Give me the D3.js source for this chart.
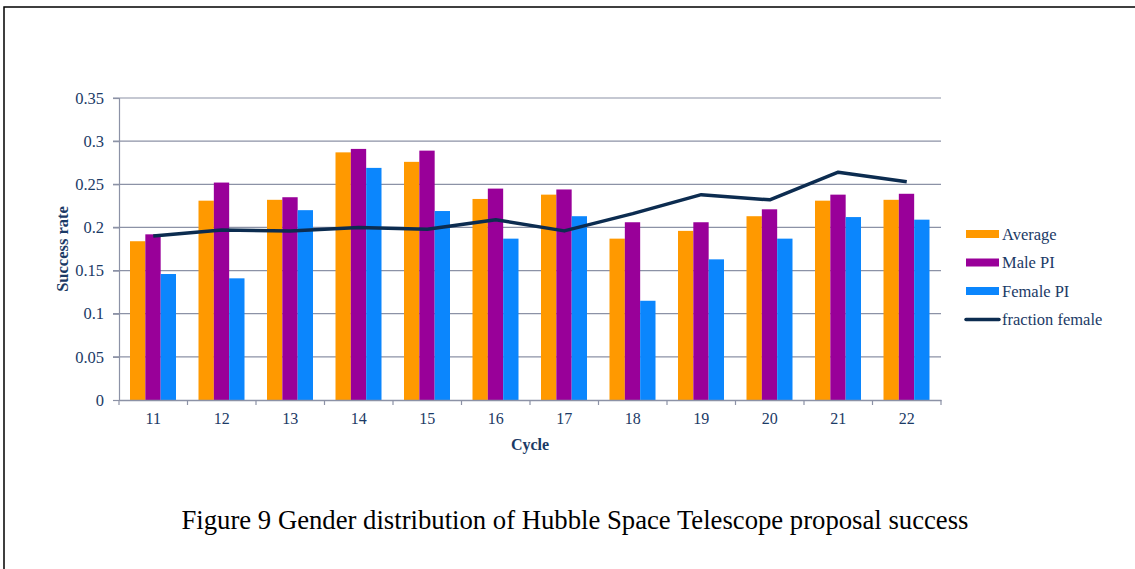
<!DOCTYPE html>
<html>
<head>
<meta charset="utf-8">
<script src="https://cdn.jsdelivr.net/npm/d3@7"></script>
<style>
  body { margin: 0; background: #fff; }
  svg { display: block; }
  text { font-family: "Liberation Serif", "Times New Roman", serif; }
</style>
</head>
<body>
<div id="app"></div>
<script>
// данные
const cycles = ['11', '12', '13', '14', '15', '16', '17', '18', '19', '20', '21', '22'];
const average = [0.184, 0.231, 0.232, 0.287, 0.276, 0.233, 0.238, 0.187, 0.196, 0.213, 0.231, 0.232];
const malePI = [0.192, 0.252, 0.235, 0.291, 0.289, 0.245, 0.244, 0.206, 0.206, 0.221, 0.238, 0.239];
const femalePI = [0.146, 0.141, 0.220, 0.269, 0.219, 0.187, 0.213, 0.115, 0.163, 0.187, 0.212, 0.209];
const fractionFemale = [0.190, 0.197, 0.196, 0.200, 0.198, 0.209, 0.196, 0.216, 0.238, 0.232, 0.264, 0.253];
const yTicks = [0, 0.05, 0.1, 0.15, 0.2, 0.25, 0.3, 0.35];

const seriesNames = ['Average', 'Male PI', 'Female PI'];
const seriesColors = ['#ff9900', '#990099', '#0b86fd'];
const lineName = 'fraction female';
const lineColor = '#0c2c50';
const textColor = '#1b3a66';

const width = 1135;
const height = 569;
const margin = { left: 119, right: 194, top: 98, bottom: 169 };

const svg = d3.select('#app')
  .append('svg')
  .attr('width', width)
  .attr('height', height);

// рамка вокруг рисунка
svg.append('rect')
  .attr('x', 4)
  .attr('y', 7)
  .attr('width', width + 10)
  .attr('height', height + 10)
  .attr('fill', 'none')
  .attr('stroke', '#000')
  .attr('stroke-width', 1.5);

const x = d3.scaleBand()
  .domain(cycles)
  .range([margin.left, width - margin.right]);

const xInner = d3.scaleBand()
  .domain(seriesNames)
  .range([11, x.bandwidth() - 11.5]);

const y = d3.scaleLinear()
  .domain([0, 0.35])
  .range([height - margin.bottom, margin.top]);

// сетка
svg.append('g')
  .selectAll('line')
  .data(yTicks.slice(1))
  .join('line')
  .attr('x1', margin.left - 6)
  .attr('x2', width - margin.right)
  .attr('y1', d => y(d))
  .attr('y2', d => y(d))
  .attr('stroke', '#8c92a6')
  .attr('stroke-width', 1.2);

// ось Y
const yAxis = svg.append('g')
  .attr('transform', `translate(${margin.left},0)`)
  .call(d3.axisLeft(y).tickValues(yTicks).tickSize(6).tickFormat(d => d3.format('')(+d.toFixed(2))));
yAxis.select('.domain').attr('stroke', '#8c92a6').attr('stroke-width', 1.2);
yAxis.selectAll('.tick line').attr('stroke', '#8c92a6').attr('stroke-width', 1.2);
yAxis.selectAll('.tick text')
  .attr('fill', textColor)
  .attr('font-size', 16.5)
  .attr('x', -15)
  .style('font-family', '"Liberation Serif", serif');

// столбцы
const groups = svg.append('g')
  .selectAll('g')
  .data(cycles)
  .join('g')
  .attr('transform', d => `translate(${x(d)},0)`);

const allSeries = [average, malePI, femalePI];
groups.selectAll('rect')
  .data((d, i) => seriesNames.map((s, j) => ({ s, v: allSeries[j][i], c: seriesColors[j] })))
  .join('rect')
  .attr('x', d => xInner(d.s))
  .attr('width', xInner.bandwidth())
  .attr('y', d => y(d.v))
  .attr('height', d => y(0) - y(d.v))
  .attr('fill', d => d.c);

// ось X
const xAxis = svg.append('g')
  .attr('transform', `translate(0,${y(0)})`)
  .call(d3.axisBottom(x).tickSize(0).tickPadding(13));
xAxis.select('.domain').attr('stroke', '#8c92a6').attr('stroke-width', 1.5);
xAxis.selectAll('.tick text')
  .attr('fill', textColor)
  .attr('font-size', 16)
  .style('font-family', '"Liberation Serif", serif');

svg.append('g')
  .selectAll('line')
  .data(cycles.concat(['end']))
  .join('line')
  .attr('x1', (d, i) => margin.left + i * x.step())
  .attr('x2', (d, i) => margin.left + i * x.step())
  .attr('y1', y(0))
  .attr('y2', y(0) + 5)
  .attr('stroke', '#8c92a6')
  .attr('stroke-width', 1.2);

// линия доли женщин
const line = d3.line()
  .x((d, i) => x(cycles[i]) + x.bandwidth() / 2)
  .y(d => y(d));

svg.append('path')
  .datum(fractionFemale)
  .attr('d', line)
  .attr('fill', 'none')
  .attr('stroke', lineColor)
  .attr('stroke-width', 3.5)
  .attr('stroke-linejoin', 'round');

// подписи осей
svg.append('text')
  .attr('transform', `translate(68,${(y(0) + y(0.35)) / 2}) rotate(-90)`)
  .attr('text-anchor', 'middle')
  .attr('font-size', 16.5)
  .attr('font-weight', 'bold')
  .attr('fill', textColor)
  .text('Success rate');

svg.append('text')
  .attr('x', (margin.left + width - margin.right) / 2)
  .attr('y', 450)
  .attr('text-anchor', 'middle')
  .attr('font-size', 16)
  .attr('font-weight', 'bold')
  .attr('fill', textColor)
  .text('Cycle');

// легенда
const legendItems = seriesNames.map((s, i) => ({ name: s, color: seriesColors[i], type: 'bar' }))
  .concat([{ name: lineName, color: lineColor, type: 'line' }]);

const legend = svg.append('g')
  .selectAll('g')
  .data(legendItems)
  .join('g')
  .attr('transform', (d, i) => `translate(966,${234 + i * 28.5})`);

legend.filter(d => d.type === 'bar')
  .append('rect')
  .attr('x', 0)
  .attr('y', -4)
  .attr('width', 33)
  .attr('height', 8)
  .attr('fill', d => d.color);

legend.filter(d => d.type === 'line')
  .append('line')
  .attr('x1', 0)
  .attr('x2', 33)
  .attr('stroke', d => d.color)
  .attr('stroke-width', 3.5)
  .attr('stroke-linecap', 'round');

legend.append('text')
  .attr('x', 36)
  .attr('dy', '0.35em')
  .attr('font-size', 16.5)
  .attr('fill', textColor)
  .text(d => d.name);

// подпись рисунка
svg.append('text')
  .attr('x', 575)
  .attr('y', 529)
  .attr('text-anchor', 'middle')
  .attr('font-size', 26.7)
  .attr('fill', '#000')
  .text('Figure 9 Gender distribution of Hubble Space Telescope proposal success');
</script>
</body>
</html>
